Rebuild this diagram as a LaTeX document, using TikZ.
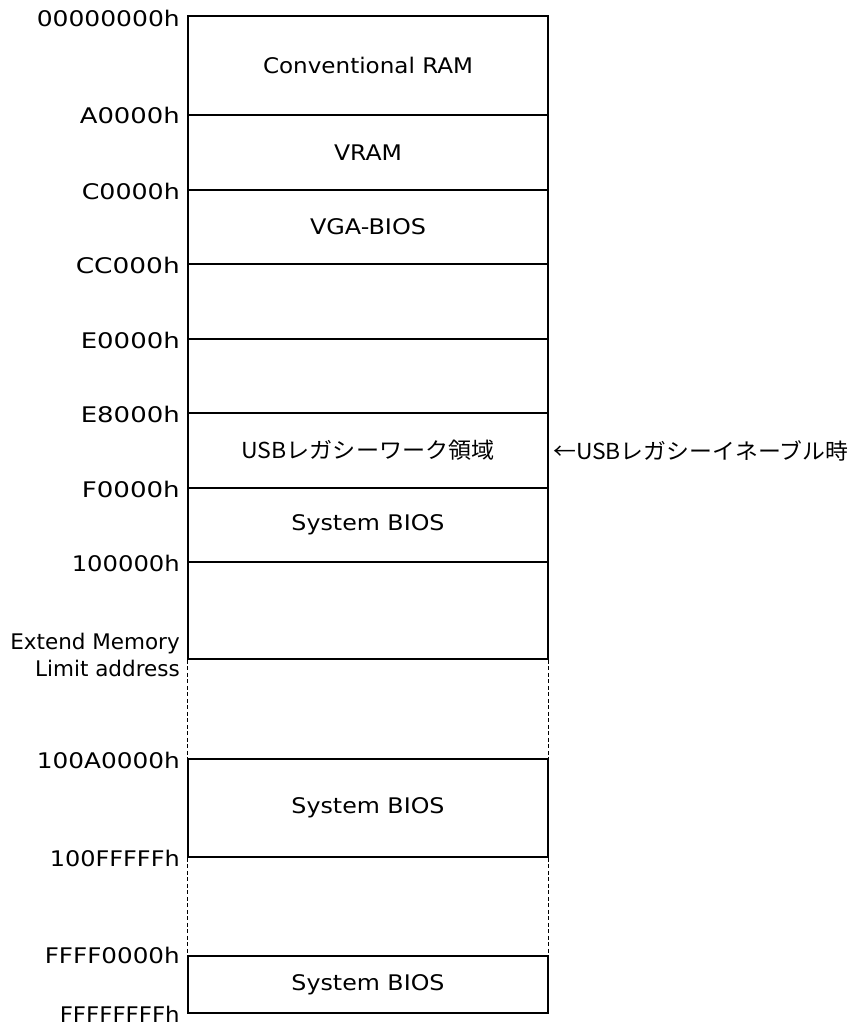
\documentclass[tikz,border=0pt]{standalone}
\usepackage{fontspec}
\usepackage{graphicx}
\setmainfont{DejaVu Sans}
\newfontfamily\jpfont{Noto Sans CJK JP}
\newcommand{\fitw}[2]{\resizebox{#1}{\height}{#2}}
\newcommand{\jptext}{\jpfont\fontsize{22}{26}\selectfont}
\begin{document}
\begin{tikzpicture}[x=1pt,y=-1pt,
  font=\fontsize{21.5}{27}\selectfont,
  region/.style={draw, line width=1.6pt, minimum width=360pt, inner sep=0pt},
  addr/.style={anchor=east, inner sep=0pt, align=right},
  gap/.style={dashed, dash pattern=on 4pt off 2.5pt, line width=1pt},
  note/.style={anchor=west, inner sep=0pt}]
\useasboundingbox (0,0) rectangle (852,1027);

% memory regions
\node[region, minimum height=99pt] (conv) at (368,65.5) {\fitw{210pt}{Conventional RAM}};
\node[region, minimum height=75pt] (vram) at (368,152.5) {\fitw{68pt}{VRAM}};
\node[region, minimum height=74pt] (vga)  at (368,227) {\fitw{116pt}{VGA-BIOS}};
\node[region, minimum height=75pt] (cc)   at (368,301.5) {};
\node[region, minimum height=74pt] (ee)   at (368,376) {};
\node[region, minimum height=75pt] (usb)  at (368,450.5) {\jptext\fitw{253pt}{USBレガシーワーク領域}};
\node[region, minimum height=74pt] (sys1) at (368,525) {\fitw{153pt}{System BIOS}};
\node[region, minimum height=97pt] (ext)  at (368,610.5) {};
\node[region, minimum height=98pt] (sys2) at (368,808) {\fitw{153pt}{System BIOS}};
\node[region, minimum height=57pt] (sys3) at (368,984.5) {\fitw{153pt}{System BIOS}};

% dashed gaps
\draw[gap] (ext.south west) -- (sys2.north west);
\draw[gap] (ext.south east) -- (sys2.north east);
\draw[gap] (sys2.south west) -- (sys3.north west);
\draw[gap] (sys2.south east) -- (sys3.north east);

% address labels
\node[addr] (a0)  at (180,18)   {\fitw{143pt}{00000000h}};
\node[addr] (a1)  at (180,115)  {\fitw{100pt}{A0000h}};
\node[addr] (a2)  at (180,191)  {\fitw{98pt}{C0000h}};
\node[addr] (a3)  at (180,265)  {\fitw{104pt}{CC000h}};
\node[addr] (a4)  at (180,340)  {\fitw{99pt}{E0000h}};
\node[addr] (a5)  at (180,414)  {\fitw{99pt}{E8000h}};
\node[addr] (a6)  at (180,489)  {\fitw{98pt}{F0000h}};
\node[addr] (a7)  at (180,563)  {\fitw{108pt}{100000h}};
\node[addr] (a8)  at (180,655)  {Extend Memory\\Limit address};
\node[addr] (a9)  at (180,760)  {\fitw{143pt}{100A0000h}};
\node[addr] (a10) at (180,858)  {\fitw{130pt}{100FFFFFh}};
\node[addr] (a11) at (180,955)  {\fitw{135pt}{FFFF0000h}};
\node[addr] (a12) at (180,1014) {\fitw{120pt}{FFFFFFFFh}};

% note
\node[note] (nt) at (553,451) {\jptext\fitw{295pt}{←USBレガシーイネーブル時}};
\end{tikzpicture}
\end{document}
